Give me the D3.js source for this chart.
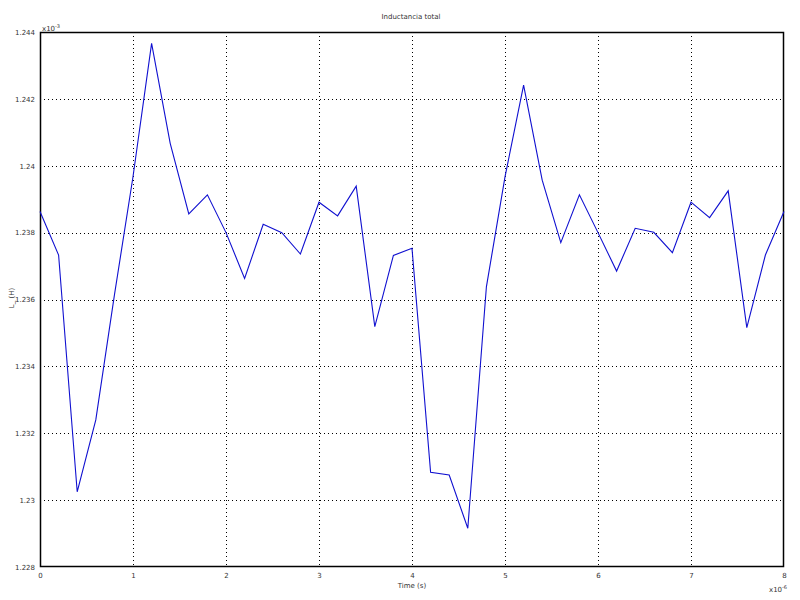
<!DOCTYPE html>
<html><head><meta charset="utf-8">
<script src="https://cdn.jsdelivr.net/npm/d3@7"></script>
<style>body{margin:0;background:#fff}svg{display:block}text{font-family:"DejaVu Sans",sans-serif;fill:#333}</style>
</head><body><svg id="c" width="800" height="600"></svg>
<script>
const timeUs = [0,0.2,0.4,0.6,0.8,1.0,1.2,1.4,1.6,1.8,2.0,2.2,2.4,2.6,2.8,3.0,3.2,3.4,3.6,3.8,4.0,4.2,4.4,4.6,4.8,5.0,5.2,5.4,5.6,5.8,6.0,6.2,6.4,6.6,6.8,7.0,7.2,7.4,7.6,7.8,8.0];
const inductanceMilliH = [1.23863,1.23733,1.23025,1.2324,1.23613,1.23967,1.24366,1.24067,1.23856,1.23913,1.2380,
  1.23663,1.23825,1.2380,1.23736,1.23891,1.2385,1.23939,1.23519,1.23732,1.23753,
  1.23083,1.23075,1.22916,1.23638,1.23967,1.24241,1.23957,1.2377,1.23913,1.2380,
  1.23685,1.23813,1.23801,1.2374,1.23891,1.23845,1.23925,1.23516,1.23733,1.23863];
const xTicks = [0,1,2,3,4,5,6,7,8];
const yTicks = [1.228,1.23,1.232,1.234,1.236,1.238,1.24,1.242,1.244];
const yTickLabels = ["1.228","1.23","1.232","1.234","1.236","1.238","1.24","1.242","1.244"];
const title = "Inductancia total", xLabel = "Time (s)", yLabel = "L_ (H)";

const svg = d3.select("#c");
const L=40,R=784,T=32,B=567;
const x = d3.scaleLinear().domain([0,8]).range([L,R]);
const y = d3.scaleLinear().domain([1.228,1.244]).range([B,T]);

// grid
const g = svg.append("g");
g.selectAll(".vx").data(xTicks.slice(1,-1)).enter().append("line")
  .attr("x1",d=>Math.round(x(d))+0.5).attr("x2",d=>Math.round(x(d))+0.5).attr("y1",T).attr("y2",B)
  .attr("stroke","#000").attr("stroke-dasharray","1,3");
g.selectAll(".hy").data(yTicks.slice(1,-1)).enter().append("line")
  .attr("y1",d=>Math.round(y(d))+0.5).attr("y2",d=>Math.round(y(d))+0.5).attr("x1",L).attr("x2",R)
  .attr("stroke","#000").attr("stroke-dasharray","1,3");

// axes (no tick marks)
const xa = svg.append("g").attr("transform",`translate(0,${B})`)
  .call(d3.axisBottom(x).tickValues(xTicks).tickSize(0).tickPadding(6).tickFormat(d3.format("d")));
const ya = svg.append("g").attr("transform",`translate(${L},0)`)
  .call(d3.axisLeft(y).tickValues(yTicks).tickSize(0).tickPadding(5).tickFormat((d,i)=>yTickLabels[i]));
[xa,ya].forEach(a=>{a.select(".domain").remove();a.selectAll("text").attr("font-size",7).attr("font-family","DejaVu Sans").attr("fill","#333");});

// frame
svg.append("rect").attr("x",L+0.5).attr("y",T+0.5).attr("width",R-L-1).attr("height",B-T-1)
  .attr("fill","none").attr("stroke","#000").attr("stroke-width",1.5);

// line
svg.append("path").datum(timeUs.map((t,i)=>[t,inductanceMilliH[i]]))
  .attr("fill","none").attr("stroke","#1010d0").attr("stroke-width",1.1)
  .attr("d",d3.line().x(d=>x(d[0])).y(d=>y(d[1])));

// labels
svg.append("text").attr("x",411).attr("y",19).attr("text-anchor","middle").attr("font-size",7).text(title);
svg.append("text").attr("x",412).attr("y",588).attr("text-anchor","middle").attr("font-size",7).text(xLabel);
svg.append("text").attr("transform","translate(14,298) rotate(-90)").attr("text-anchor","middle").attr("font-size",7).text(yLabel);
const e1 = svg.append("text").attr("x",42).attr("y",31).attr("font-size",7);
e1.append("tspan").text("x10");
e1.append("tspan").attr("dy",-3).attr("font-size",5).text("-3");
const e2 = svg.append("text").attr("x",769).attr("y",592).attr("font-size",7);
e2.append("tspan").text("x10");
e2.append("tspan").attr("dy",-3).attr("font-size",5).text("-6");
</script></body></html>
